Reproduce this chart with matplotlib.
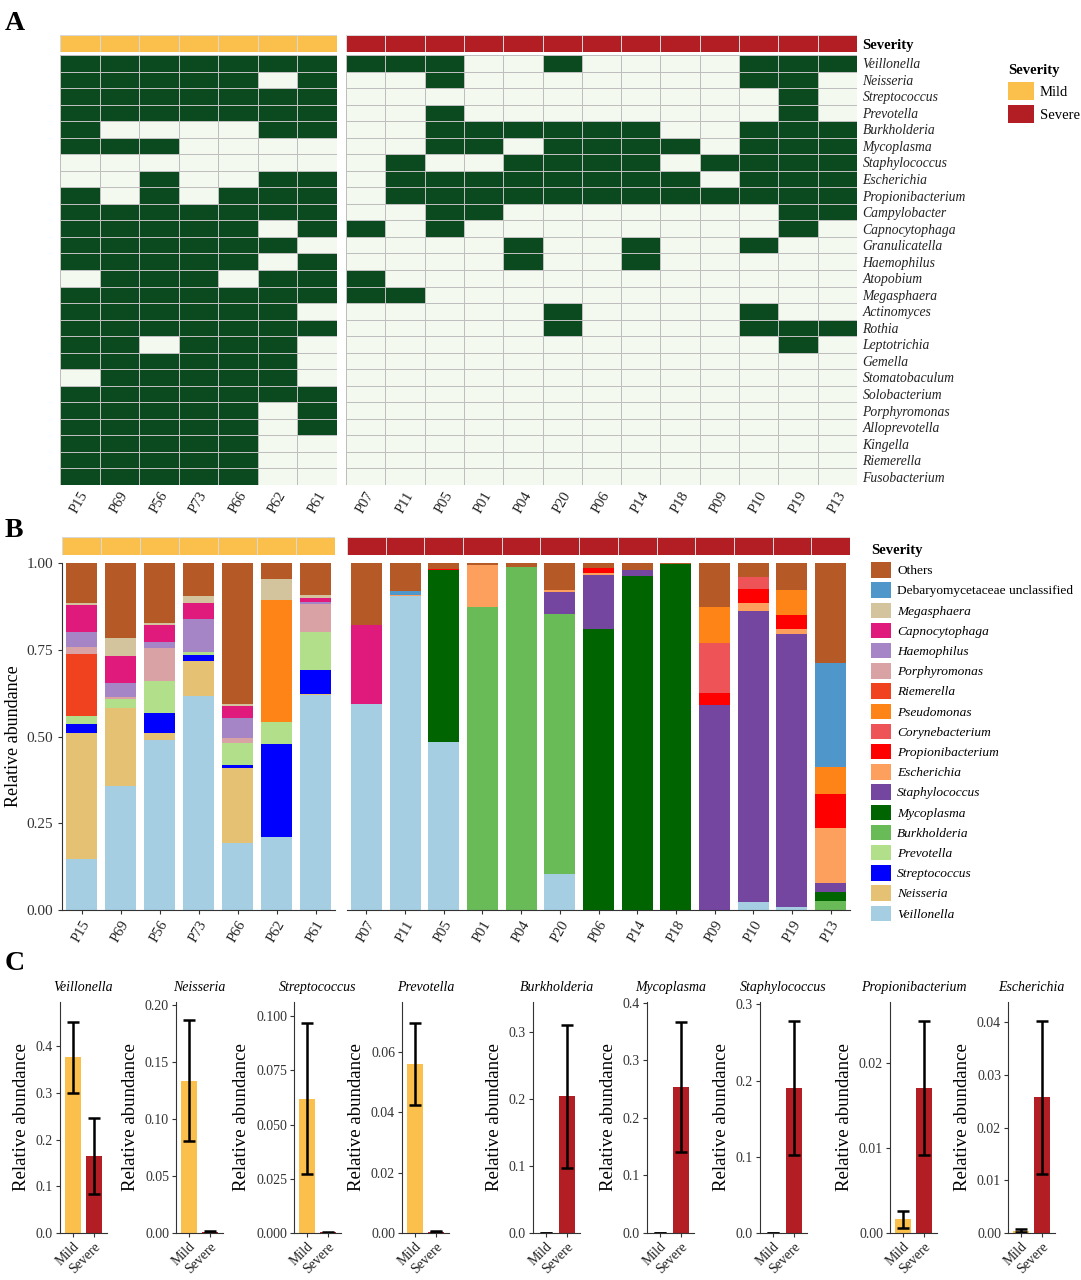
import numpy as np
import matplotlib
matplotlib.use("Agg")
import matplotlib.pyplot as plt
from matplotlib.colors import ListedColormap
from matplotlib.patches import Patch

plt.rcParams['font.family'] = ['Liberation Serif', 'DejaVu Serif']

# ---------------- data ----------------
mild_samples = ["P15", "P69", "P56", "P73", "P66", "P62", "P61"]
severe_samples = ["P07", "P11", "P05", "P01", "P04", "P20", "P06", "P14", "P18", "P09", "P10", "P19", "P13"]

genera_A = ["Veillonella", "Neisseria", "Streptococcus", "Prevotella", "Burkholderia", "Mycoplasma",
            "Staphylococcus", "Escherichia", "Propionibacterium", "Campylobacter", "Capnocytophaga",
            "Granulicatella", "Haemophilus", "Atopobium", "Megasphaera", "Actinomyces", "Rothia",
            "Leptotrichia", "Gemella", "Stomatobaculum", "Solobacterium", "Porphyromonas",
            "Alloprevotella", "Kingella", "Riemerella", "Fusobacterium"]

presence_mild = [
    [1, 1, 1, 1, 1, 1, 1],
    [1, 1, 1, 1, 1, 0, 1],
    [1, 1, 1, 1, 1, 1, 1],
    [1, 1, 1, 1, 1, 1, 1],
    [1, 0, 0, 0, 0, 1, 1],
    [1, 1, 1, 0, 0, 0, 0],
    [0, 0, 0, 0, 0, 0, 0],
    [0, 0, 1, 0, 0, 1, 1],
    [1, 0, 1, 0, 1, 1, 1],
    [1, 1, 1, 1, 1, 1, 1],
    [1, 1, 1, 1, 1, 0, 1],
    [1, 1, 1, 1, 1, 1, 0],
    [1, 1, 1, 1, 1, 0, 1],
    [0, 1, 1, 1, 0, 1, 1],
    [1, 1, 1, 1, 1, 1, 1],
    [1, 1, 1, 1, 1, 1, 0],
    [1, 1, 1, 1, 1, 1, 1],
    [1, 1, 0, 1, 1, 1, 0],
    [1, 1, 1, 1, 1, 1, 0],
    [0, 1, 1, 1, 1, 1, 0],
    [1, 1, 1, 1, 1, 1, 1],
    [1, 1, 1, 1, 1, 0, 1],
    [1, 1, 1, 1, 1, 0, 1],
    [1, 1, 1, 1, 1, 0, 0],
    [1, 1, 1, 1, 1, 0, 0],
    [1, 1, 1, 1, 1, 0, 0],
]

presence_severe = [
    [1, 1, 1, 0, 0, 1, 0, 0, 0, 0, 1, 1, 1],
    [0, 0, 1, 0, 0, 0, 0, 0, 0, 0, 1, 1, 0],
    [0, 0, 0, 0, 0, 0, 0, 0, 0, 0, 0, 1, 0],
    [0, 0, 1, 0, 0, 0, 0, 0, 0, 0, 0, 1, 0],
    [0, 0, 1, 1, 1, 1, 1, 1, 0, 0, 1, 1, 1],
    [0, 0, 1, 1, 0, 1, 1, 1, 1, 0, 1, 1, 1],
    [0, 1, 0, 0, 1, 1, 1, 1, 0, 1, 1, 1, 1],
    [0, 1, 1, 1, 1, 1, 1, 1, 1, 0, 1, 1, 1],
    [0, 1, 1, 1, 1, 1, 1, 1, 1, 1, 1, 1, 1],
    [0, 0, 1, 1, 0, 0, 0, 0, 0, 0, 0, 1, 1],
    [1, 0, 1, 0, 0, 0, 0, 0, 0, 0, 0, 1, 0],
    [0, 0, 0, 0, 1, 0, 0, 1, 0, 0, 1, 0, 0],
    [0, 0, 0, 0, 1, 0, 0, 1, 0, 0, 0, 0, 0],
    [1, 0, 0, 0, 0, 0, 0, 0, 0, 0, 0, 0, 0],
    [1, 1, 0, 0, 0, 0, 0, 0, 0, 0, 0, 0, 0],
    [0, 0, 0, 0, 0, 1, 0, 0, 0, 0, 1, 0, 0],
    [0, 0, 0, 0, 0, 1, 0, 0, 0, 0, 1, 1, 1],
    [0, 0, 0, 0, 0, 0, 0, 0, 0, 0, 0, 1, 0],
    [0, 0, 0, 0, 0, 0, 0, 0, 0, 0, 0, 0, 0],
    [0, 0, 0, 0, 0, 0, 0, 0, 0, 0, 0, 0, 0],
    [0, 0, 0, 0, 0, 0, 0, 0, 0, 0, 0, 0, 0],
    [0, 0, 0, 0, 0, 0, 0, 0, 0, 0, 0, 0, 0],
    [0, 0, 0, 0, 0, 0, 0, 0, 0, 0, 0, 0, 0],
    [0, 0, 0, 0, 0, 0, 0, 0, 0, 0, 0, 0, 0],
    [0, 0, 0, 0, 0, 0, 0, 0, 0, 0, 0, 0, 0],
    [0, 0, 0, 0, 0, 0, 0, 0, 0, 0, 0, 0, 0],
]

# Panel B: stack order bottom -> top; values per sample (mild 7 then severe 13)
genera_B = ["Veillonella", "Neisseria", "Streptococcus", "Prevotella", "Burkholderia", "Mycoplasma",
            "Staphylococcus", "Escherichia", "Propionibacterium", "Corynebacterium", "Pseudomonas",
            "Riemerella", "Porphyromonas", "Haemophilus", "Capnocytophaga", "Megasphaera",
            "Debaryomycetaceae unclassified", "Others"]
#                 P15   P69   P56   P73   P66   P62   P61 | P07   P11   P05   P01   P04   P20   P06   P14   P18   P09   P10   P19   P13
veillonella   = [.147, .357, .491, .617, .192, .211, .619, .593, .905, .485, 0,    0,    .104, 0,    0,    0,    0,    .024, .010, 0]
neisseria     = [.362, .226, .018, .100, .218, 0,    .004, 0,    0,    0,    0,    0,    0,    0,    0,    0,    0,    0,    0,    0]
streptococcus = [.026, 0,    .060, .019, .009, .266, .070, 0,    0,    0,    0,    0,    0,    0,    0,    0,    0,    0,    0,    0]
prevotella    = [.025, .024, .090, .008, .061, .065, .108, 0,    0,    0,    0,    0,    0,    0,    0,    0,    0,    0,    0,    0]
burkholderia  = [0,    0,    0,    0,    0,    0,    0,    0,    0,    0,    .873, .988, .750, 0,    0,    0,    0,    0,    0,    .026]
mycoplasma    = [0,    0,    0,    0,    0,    0,    0,    0,    0,    .494, 0,    0,    0,    .809, .963, .997, 0,    0,    0,    .025]
staphylococcus= [0,    0,    0,    0,    0,    0,    0,    0,    0,    0,    0,    0,    .062, .155, .016, 0,    .592, .837, .784, .028]
escherichia   = [0,    0,    0,    0,    0,    0,    0,    0,    .003, 0,    .122, 0,    .005, .008, 0,    0,    0,    .024, .015, .158]
propionibact  = [0,    0,    0,    0,    0,    0,    0,    0,    0,    .005, 0,    0,    0,    .014, 0,    0,    .032, .041, .040, .096]
corynebact    = [0,    0,    0,    0,    0,    0,    0,    0,    0,    0,    0,    0,    0,    0,    0,    0,    .146, .034, 0,    0]
pseudomonas   = [0,    0,    0,    0,    0,    .351, 0,    0,    0,    0,    0,    0,    0,    0,    0,    0,    .103, 0,    .072, .078]
riemerella    = [.179, 0,    0,    0,    0,    0,    0,    0,    0,    0,    0,    0,    0,    0,    0,    0,    0,    0,    0,    0]
porphyromonas = [.019, .007, .096, 0,    .016, 0,    .082, 0,    0,    0,    0,    0,    0,    0,    0,    0,    0,    0,    0,    0]
haemophilus   = [.042, .041, .016, .096, .058, 0,    .005, 0,    0,    0,    0,    0,    0,    0,    0,    0,    0,    0,    0,    0]
capnocytophaga= [.080, .077, .051, .045, .034, 0,    .011, .227, 0,    0,    0,    0,    0,    0,    0,    0,    0,    0,    0,    0]
megasphaera   = [.006, .053, .006, .020, .007, .062, .008, 0,    0,    0,    0,    0,    0,    0,    0,    0,    0,    0,    0,    0]
debaryomyc    = [0,    0,    0,    0,    0,    0,    0,    0,    .010, 0,    0,    0,    0,    0,    0,    0,    0,    0,    0,    .302]
others        = [.114, .215, .172, .095, .405, .045, .093, .180, .082, .016, .005, .012, .079, .014, .021, .003, .127, .040, .079, .287]

abund_B = [veillonella, neisseria, streptococcus, prevotella, burkholderia, mycoplasma, staphylococcus,
           escherichia, propionibact, corynebact, pseudomonas, riemerella, porphyromonas, haemophilus,
           capnocytophaga, megasphaera, debaryomyc, others]

# Panel C: mean and standard error per group
genera_C = ["Veillonella", "Neisseria", "Streptococcus", "Prevotella", "Burkholderia", "Mycoplasma",
            "Staphylococcus", "Propionibacterium", "Escherichia"]
mild_mean   = [0.377, 0.134, 0.062, 0.056, 0.0002, 0.0003, 0.0003, 0.0016, 0.0004]
mild_se     = [0.076, 0.053, 0.035, 0.0135, 0.0002, 0.0003, 0.0003, 0.0010, 0.0003]
severe_mean = [0.165, 0.0012, 0.0003, 0.0004, 0.204, 0.253, 0.190, 0.0171, 0.0257]
severe_se   = [0.082, 0.0008, 0.0002, 0.0002, 0.107, 0.113, 0.088, 0.0079, 0.0145]
c_ymax      = [0.495, 0.203, 0.1065, 0.0765, 0.345, 0.401, 0.303, 0.0272, 0.0438]
c_yticks    = [[0, .1, .2, .3, .4], [0, .05, .10, .15, .20], [0, .025, .05, .075, .1],
               [0, .02, .04, .06], [0, .1, .2, .3], [0, .1, .2, .3, .4], [0, .1, .2, .3],
               [0, .01, .02], [0, .01, .02, .03, .04]]
c_fmt       = ["%.1f", "%.2f", "%.3f", "%.2f", "%.1f", "%.1f", "%.1f", "%.2f", "%.2f"]
groups = ["Mild", "Severe"]

# ---------------- style ----------------
MILD = "#FBBF4C"
SEVERE = "#B31E24"
PRESENT = "#0B4A1E"
ABSENT = "#F4F9F0"
colors_B = ["#A6CEE3", "#E5C273", "#0000FF", "#B2DF8A", "#68BB57", "#006400", "#7446A0", "#FDA05E",
            "#FF0000", "#EE5358", "#FF8418", "#F0421F", "#D9A3A6", "#A585C6", "#E0197C", "#D3C49D",
            "#4F97CB", "#B55A27"]
AXC = "#333333"

W, H = 1081, 1280
fig = plt.figure(figsize=(W / 100, H / 100), dpi=100)


def add_ax(l, t, r, b):
    return fig.add_axes([l / W, 1 - b / H, (r - l) / W, (b - t) / H])


def strip(l, t, r, b, n, color):
    s = add_ax(l, t, r, b)
    s.pcolormesh(np.zeros((1, n)), cmap=ListedColormap([color]), vmin=0, vmax=1,
                 edgecolors="#D8D8D8", linewidth=0.5)
    s.set_xlim(0, n)
    s.set_ylim(0, 1)
    s.axis("off")
    return s


# ---------------- Panel A ----------------
blocks = [(mild_samples, presence_mild, 60, 337, MILD), (severe_samples, presence_severe, 346, 857, SEVERE)]
for i, (samples, pres, l, r, col) in enumerate(blocks):
    n = len(samples)
    ax = add_ax(l, 55, r, 485)
    ax.pcolormesh(np.array(pres), cmap=ListedColormap([ABSENT, PRESENT]), vmin=0, vmax=1,
                  edgecolors="#BEBEBE", linewidth=0.6)
    ax.set_xlim(0, n)
    ax.set_ylim(len(genera_A), 0)
    ax.set_xticks(np.arange(n) + 0.5)
    ax.set_xticklabels(samples, rotation=60, ha="right", rotation_mode="anchor", fontsize=10.5, color="#222222")
    ax.tick_params(length=0, pad=3)
    for sp in ax.spines.values():
        sp.set_visible(False)
    if i == 1:
        ax.yaxis.tick_right()
        ax.set_yticks(np.arange(len(genera_A)) + 0.5)
        ax.set_yticklabels(genera_A, fontstyle="italic", fontsize=9.8, color="#222222")
        ax.tick_params(axis="y", pad=4)
    else:
        ax.set_yticks([])
    s = strip(l, 35, r, 52, n, col)
    if i == 1:
        s.text(1.01, 0.4, "Severity", transform=s.transAxes, fontweight="bold", va="center", fontsize=10.5)

legA = fig.legend(handles=[Patch(facecolor=MILD, label="Mild"), Patch(facecolor=SEVERE, label="Severe")],
                  title="Severity", loc="upper left", bbox_to_anchor=(998 / W, 1 - 54 / H), frameon=False,
                  fontsize=10.5, title_fontproperties={"weight": "bold", "size": 10.5},
                  handlelength=1.75, handleheight=1.6, labelspacing=0.3, handletextpad=0.4,
                  alignment="left", borderpad=0.2)

fig.text(5 / W, 1 - 30 / H, "A", fontsize=20, fontweight="bold")
fig.text(5 / W, 1 - 537 / H, "B", fontsize=20, fontweight="bold")
fig.text(5 / W, 1 - 970 / H, "C", fontsize=20, fontweight="bold")

# ---------------- Panel B ----------------
abund = np.array(abund_B, dtype=float)
nm = len(mild_samples)
blocksB = [(mild_samples, abund[:, :nm], 62, 335, MILD), (severe_samples, abund[:, nm:], 347, 850, SEVERE)]
for i, (samples, vals, l, r, col) in enumerate(blocksB):
    n = len(samples)
    ax = add_ax(l, 563, r, 910)
    x = np.arange(n)
    bottom = np.zeros(n)
    for g, v, c in zip(genera_B, vals, colors_B):
        ax.bar(x, v, bottom=bottom, width=0.8, color=c, label=g, linewidth=0)
        bottom += v
    ax.set_xlim(-0.5, n - 0.5)
    ax.set_ylim(0, 1.0)
    ax.set_xticks(x)
    ax.set_xticklabels(samples, rotation=60, ha="right", rotation_mode="anchor", fontsize=10.5, color="#222222")
    ax.spines["top"].set_visible(False)
    ax.spines["right"].set_visible(False)
    ax.spines["bottom"].set_color(AXC)
    ax.tick_params(axis="x", length=3, color=AXC, pad=3)
    if i == 0:
        ax.spines["left"].set_color(AXC)
        ax.set_yticks([0, 0.25, 0.5, 0.75, 1.0])
        ax.set_yticklabels(["0.00", "0.25", "0.50", "0.75", "1.00"], fontsize=11, color="#333333")
        ax.tick_params(axis="y", length=3, color=AXC)
        ax.set_ylabel("Relative abundance", fontsize=13, labelpad=3)
    else:
        ax.spines["left"].set_visible(False)
        ax.set_yticks([])
    strip(l, 537, r, 555, n, col)

handlesB = [Patch(facecolor=c, label=g) for g, c in zip(genera_B, colors_B)][::-1]
legB = fig.legend(handles=handlesB, title="Severity", loc="upper left", bbox_to_anchor=(862 / W, 1 - 535 / H),
                  frameon=False, fontsize=9.6, title_fontproperties={"weight": "bold", "size": 10.5},
                  handlelength=1.5, handleheight=1.4, labelspacing=0.36, handletextpad=0.45,
                  alignment="left", borderpad=0.2)
for t in legB.get_texts():
    if t.get_text() not in ("Others", "Debaryomycetaceae unclassified"):
        t.set_fontstyle("italic")

# ---------------- Panel C ----------------
c_left = [60, 176, 294, 402, 533, 647, 760, 890, 1008]
for k, g in enumerate(genera_C):
    l = c_left[k]
    ax = add_ax(l, 1002, l + 47, 1233)
    means = [mild_mean[k], severe_mean[k]]
    ses = [mild_se[k], severe_se[k]]
    ax.bar([0, 1], means, width=0.72, color=[MILD, SEVERE], linewidth=0)
    ax.errorbar([0, 1], means, yerr=ses, fmt="none", ecolor="black", elinewidth=1.8, capsize=4, capthick=1.8)
    ax.set_xlim(-0.62, 1.62)
    ax.set_ylim(0, c_ymax[k])
    ax.set_yticks(c_yticks[k])
    ax.set_yticklabels([c_fmt[k] % v for v in c_yticks[k]], fontsize=10, color="#333333")
    ax.set_xticks([0, 1])
    ax.set_xticklabels(groups, rotation=45, ha="right", rotation_mode="anchor", fontsize=10, color="#222222")
    ax.spines["top"].set_visible(False)
    ax.spines["right"].set_visible(False)
    ax.spines["left"].set_color(AXC)
    ax.spines["bottom"].set_color(AXC)
    ax.tick_params(length=3, color=AXC, pad=2)
    ax.set_ylabel("Relative abundance", fontsize=13.5, labelpad=4)
    ax.set_title(g, fontstyle="italic", fontsize=10, pad=8)

fig.savefig("out.png", dpi=100)
